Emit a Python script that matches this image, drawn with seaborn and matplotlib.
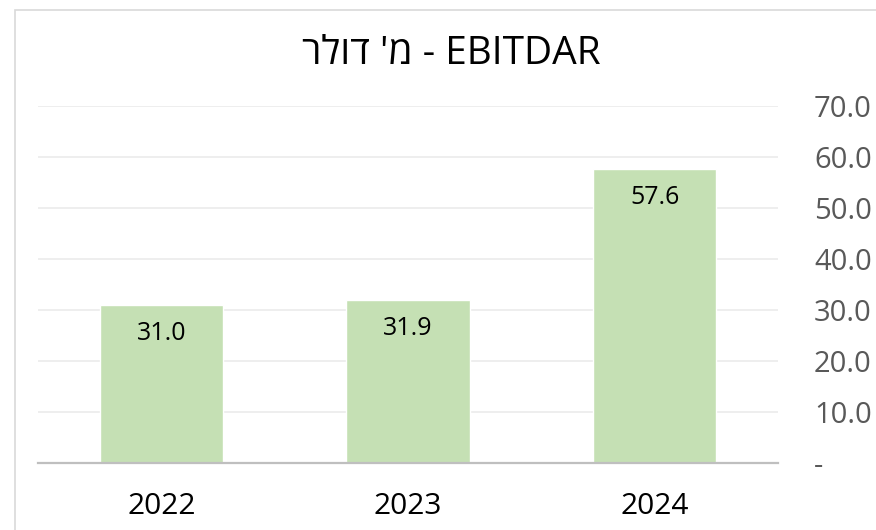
import matplotlib
matplotlib.use("Agg")
import matplotlib.pyplot as plt
import seaborn as sns
import pandas as pd
from matplotlib.patches import Rectangle

years = ["2022", "2023", "2024"]
values = [31.0, 31.9, 57.6]
value_labels = ["31.0", "31.9", "57.6"]
ytick_values = [0, 10, 20, 30, 40, 50, 60, 70]
ytick_labels = ["-", "10.0", "20.0", "30.0", "40.0", "50.0", "60.0", "70.0"]
title_text = "רלוד 'מ - EBITDAR"

sns.set_theme(style="white")
plt.rcParams['font.family'] = ['Open Sans', 'DejaVu Sans']

df = pd.DataFrame({"year": years, "value": values})

fig = plt.figure(figsize=(8.76, 5.30), dpi=100)
ax = fig.add_axes([38/876, 67/530, 740/876, 357/530])

sns.barplot(data=df, x="year", y="value", color="#c5e0b4", width=0.5,
            saturation=1, ax=ax, zorder=3)

ax.set_ylim(0, 70)
ax.set_xlim(-0.5, 2.5)
ax.set_yticks(ytick_values)
ax.set_yticklabels(ytick_labels)
ax.yaxis.tick_right()
ax.tick_params(axis='y', length=0, pad=26, labelsize=21, labelcolor="#595959")
ax.tick_params(axis='x', length=0, pad=21, labelsize=21.5, labelcolor="#000000")
for lbl in ax.get_yticklabels():
    lbl.set_horizontalalignment('left')
ax.set_xlabel("")
ax.set_ylabel("")

ax.grid(axis='y', color="#ebebeb", linewidth=1.2, zorder=0)
for s in ["left", "right", "top"]:
    ax.spines[s].set_visible(False)
ax.spines["bottom"].set_color("#bfbfbf")
ax.spines["bottom"].set_linewidth(1.6)
ax.spines["bottom"].set_zorder(4)

for i, (v, t) in enumerate(zip(values, value_labels)):
    ax.annotate(t, xy=(i, v), xytext=(0, -20.5), textcoords="offset points",
                ha="center", va="center", fontsize=18, color="#000000", zorder=5)

fig.text(451/876, 1 - 54/530, title_text, ha="center", va="center",
         fontsize=28, color="#000000")

fig.patches.append(Rectangle((15/876, -0.1), 1.2, 1.1 - 10/530,
                             transform=fig.transFigure, fill=False,
                             edgecolor="#d9d9d9", linewidth=1.2))

fig.savefig("out.png", dpi=100)
